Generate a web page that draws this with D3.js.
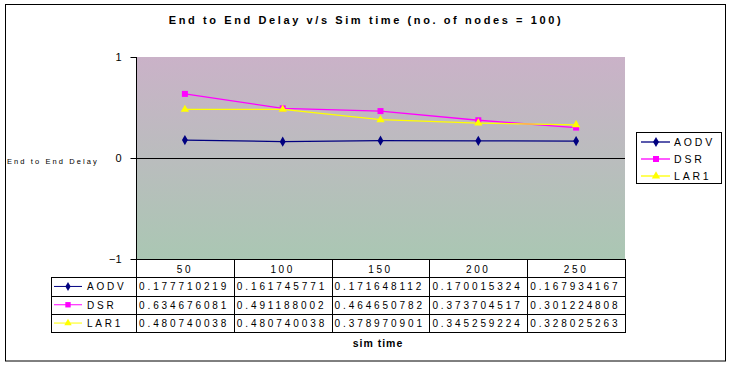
<!DOCTYPE html>
<html>
<head>
<meta charset="utf-8">
<script src="https://cdn.jsdelivr.net/npm/d3@7"></script>
<style>
  body { margin: 0; background: #fff; }
  text { font-family: Arial, "Liberation Sans", sans-serif; }
</style>
</head>
<body>
<div id="chart"></div>
<script>

// data
var categories = [50, 100, 150, 200, 250]
var series_names = ["AODV", "DSR", "LAR1"]
var aodv = [0.177710219, 0.161745771, 0.171648112, 0.170015324, 0.167934167]
var dsr = [0.634676081, 0.491188002, 0.464650782, 0.373704517, 0.301224808]
var lar1 = [0.480740038, 0.480740038, 0.378970901, 0.345259224, 0.328025263]
var y_ticks = [-1, 0, 1]

var series = [
  {name: series_names[0], values: aodv, color: "#000080", symbol: d3.symbolDiamond, size: 30},
  {name: series_names[1], values: dsr, color: "#ff00ff", symbol: d3.symbolSquare, size: 36},
  {name: series_names[2], values: lar1, color: "#ffff00", symbol: d3.symbolTriangle, size: 30}
]

var width = 732, height = 366
var plot = {left: 136, right: 625, top: 57, bottom: 259}
var row_h = 18.3
var label_left = 51

var svg = d3.select("#chart").append("svg")
  .attr("width", width)
  .attr("height", height)

// background gradient of the plot area
var defs = svg.append("defs")
var grad = defs.append("linearGradient")
  .attr("id", "bg")
  .attr("x1", 0).attr("y1", 0).attr("x2", 0).attr("y2", 1)
grad.append("stop").attr("offset", "0%").attr("stop-color", "#cab2c8")
grad.append("stop").attr("offset", "100%").attr("stop-color", "#aac7b3")

// outer frame
svg.append("rect")
  .attr("x", 5.5).attr("y", 4.5)
  .attr("width", 720).attr("height", 356.5)
  .attr("fill", "#fff")
  .attr("stroke", "#000")

// title
svg.append("text")
  .attr("x", 366).attr("y", 24)
  .attr("text-anchor", "middle")
  .attr("font-size", 11)
  .attr("font-weight", "bold")
  .attr("letter-spacing", "2.6px")
  .text("End to End Delay v/s Sim time (no. of nodes = 100)")

// scales
var x = d3.scaleBand()
  .domain(categories)
  .range([plot.left, plot.right])

var y = d3.scaleLinear()
  .domain([-1, 1])
  .range([plot.bottom, plot.top])

// plot area
svg.append("rect")
  .attr("x", plot.left).attr("y", plot.top)
  .attr("width", plot.right - plot.left)
  .attr("height", plot.bottom - plot.top)
  .attr("fill", "url(#bg)")

// y axis
var y_axis = svg.append("g")
  .attr("transform", "translate(" + (plot.left + 0.5) + ",0)")
  .call(d3.axisLeft(y).tickValues(y_ticks).tickSize(6).tickPadding(9).tickFormat(d3.format("d")))
y_axis.select(".domain").attr("stroke", "#000").attr("d", "M0," + plot.top + "V" + plot.bottom)
y_axis.selectAll("text")
  .attr("font-size", 11)
  .attr("fill", "#000")
  .attr("font-family", "Arial, 'Liberation Sans', sans-serif")

// zero line
svg.append("line")
  .attr("x1", plot.left).attr("x2", plot.right)
  .attr("y1", Math.round(y(0)) + 0.5).attr("y2", Math.round(y(0)) + 0.5)
  .attr("stroke", "#000")

// y axis title
svg.append("text")
  .attr("x", 7).attr("y", 164)
  .attr("font-size", 7.5)
  .attr("letter-spacing", "2.1px")
  .text("End to End Delay")

// lines and markers
var line = d3.line()
  .x(function(d, i){ return x(categories[i]) + x.bandwidth() / 2 })
  .y(function(d){ return y(d) })

series.forEach(function(s){
  svg.append("path")
    .datum(s.values)
    .attr("fill", "none")
    .attr("stroke", s.color)
    .attr("stroke-width", 1.3)
    .attr("d", line)

  svg.selectAll(null)
    .data(s.values)
    .enter().append("path")
      .attr("transform", function(d, i){
        return "translate(" + (x(categories[i]) + x.bandwidth() / 2) + "," + y(d) + ")"
      })
      .attr("d", d3.symbol().type(s.symbol).size(s.size))
      .attr("fill", s.color)
})

// data table
var table = svg.append("g").attr("stroke", "#000").attr("shape-rendering", "crispEdges")

var row_y = d3.range(5).map(function(i){ return plot.bottom + i * row_h })

// horizontal lines
table.append("line")
  .attr("x1", plot.left).attr("x2", plot.right)
  .attr("y1", row_y[0] + 0.5).attr("y2", row_y[0] + 0.5)
table.selectAll(null)
  .data(row_y.slice(1))
  .enter().append("line")
    .attr("x1", label_left).attr("x2", plot.right)
    .attr("y1", function(d){ return Math.round(d) + 0.5 })
    .attr("y2", function(d){ return Math.round(d) + 0.5 })

// vertical lines
var col_edges = categories.map(function(c){ return x(c) }).concat([plot.right])
table.selectAll(null)
  .data(col_edges)
  .enter().append("line")
    .attr("x1", function(d){ return Math.round(d) + 0.5 })
    .attr("x2", function(d){ return Math.round(d) + 0.5 })
    .attr("y1", plot.bottom)
    .attr("y2", Math.round(row_y[4]) + 0.5)
table.append("line")
  .attr("x1", label_left + 0.5).attr("x2", label_left + 0.5)
  .attr("y1", Math.round(row_y[1]) + 0.5)
  .attr("y2", Math.round(row_y[4]) + 0.5)

// header labels
svg.selectAll(null)
  .data(categories)
  .enter().append("text")
    .attr("x", function(d){ return x(d) + x.bandwidth() / 2 })
    .attr("y", row_y[0] + 13.5)
    .attr("text-anchor", "middle")
    .attr("font-size", 10)
    .attr("letter-spacing", "2.6px")
    .text(function(d){ return d })

// series rows
series.forEach(function(s, r){
  var cy = row_y[r + 1] + row_h / 2

  // key in the label cell
  svg.append("line")
    .attr("x1", 54).attr("x2", 82)
    .attr("y1", cy).attr("y2", cy)
    .attr("stroke", s.color)
  svg.append("path")
    .attr("transform", "translate(68," + cy + ")")
    .attr("d", d3.symbol().type(s.symbol).size(s.size * 0.8))
    .attr("fill", s.color)
  svg.append("text")
    .attr("x", 87).attr("y", cy + 4)
    .attr("font-size", 10)
    .attr("letter-spacing", "2.8px")
    .text(s.name)

  // values
  svg.selectAll(null)
    .data(s.values)
    .enter().append("text")
      .attr("x", function(d, i){ return x(categories[i]) + 3 })
      .attr("y", cy + 4)
      .attr("font-size", 10)
      .attr("letter-spacing", "2.9px")
      .text(function(d){ return d })
})

// x axis title
svg.append("text")
  .attr("x", 378).attr("y", 347)
  .attr("text-anchor", "middle")
  .attr("font-size", 10.5)
  .attr("font-weight", "bold")
  .attr("letter-spacing", "1px")
  .text("sim time")

// legend
var legend = svg.append("g").attr("transform", "translate(636,132)")
legend.append("rect")
  .attr("x", 0.5).attr("y", 0.5)
  .attr("width", 85).attr("height", 51)
  .attr("fill", "#fff")
  .attr("stroke", "#000")

series.forEach(function(s, i){
  var ly = 10 + i * 17
  legend.append("line")
    .attr("x1", 5).attr("x2", 34)
    .attr("y1", ly).attr("y2", ly)
    .attr("stroke", s.color)
    .attr("stroke-width", 1.3)
  legend.append("path")
    .attr("transform", "translate(20," + ly + ")")
    .attr("d", d3.symbol().type(s.symbol).size(s.size))
    .attr("fill", s.color)
  legend.append("text")
    .attr("x", 38).attr("y", ly + 4)
    .attr("font-size", 10.5)
    .attr("letter-spacing", "2.8px")
    .text(s.name)
})

</script>
</body>
</html>
